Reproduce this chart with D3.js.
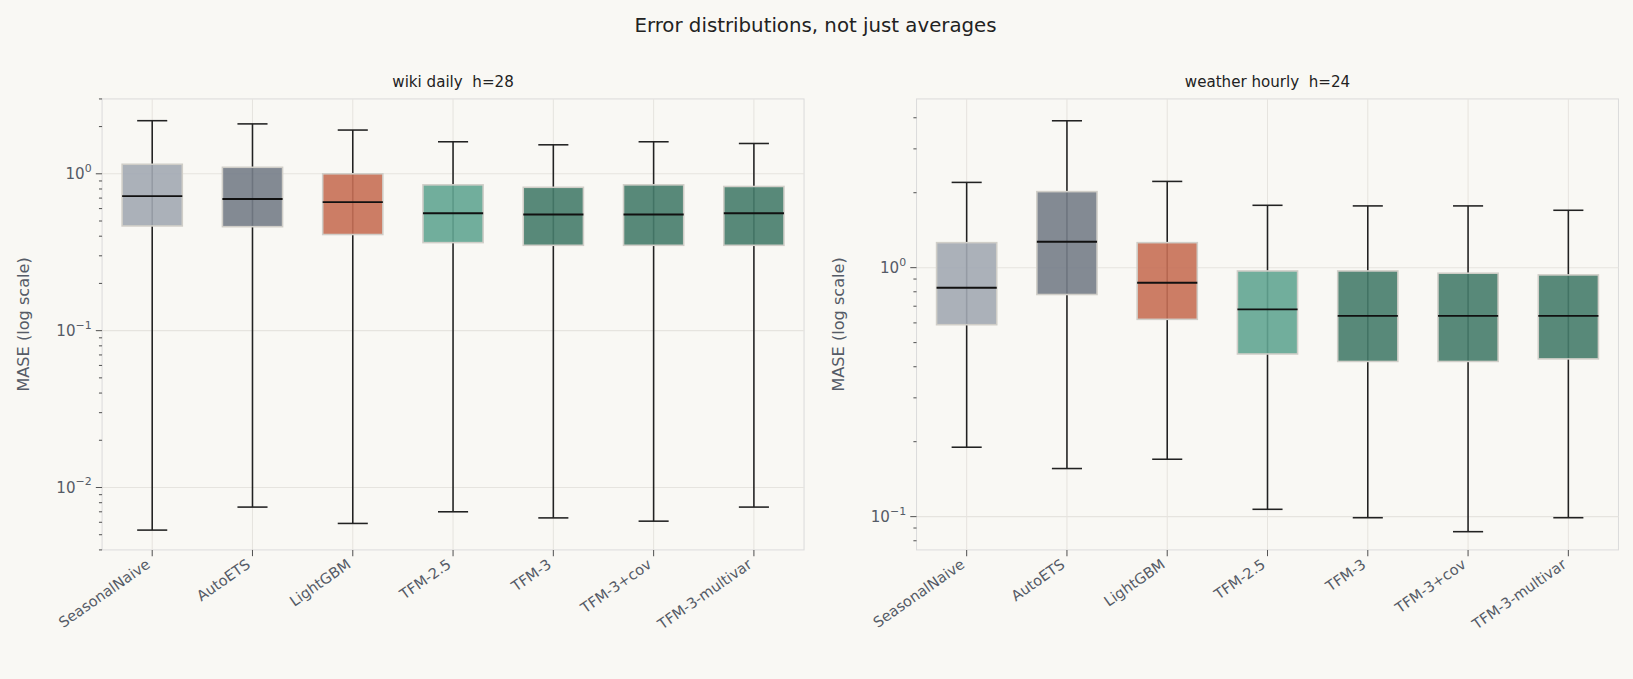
<!DOCTYPE html>
<html><head><meta charset="utf-8">
<script src="https://cdn.jsdelivr.net/npm/d3@7"></script>
<style>body{margin:0;background:#f9f8f4;font-family:"DejaVu Sans",sans-serif}text{white-space:pre}</style>
</head><body><svg id="c" width="1633" height="679"></svg>
<script>
const models=["SeasonalNaive","AutoETS","LightGBM","TFM-2.5","TFM-3","TFM-3+cov","TFM-3-multivar"];
const colors=["#a2a8b2","#767d88","#c66f55","#62a592","#467c6c","#467c6c","#467c6c"];
// [low, q1, median, q3, high]
const wikiStats=[[0.00535,0.465,0.72,1.15,2.18],[0.0075,0.46,0.69,1.1,2.08],[0.0059,0.41,0.66,1.0,1.9],[0.0070,0.364,0.56,0.85,1.6],[0.0064,0.35,0.55,0.82,1.53],[0.0061,0.35,0.55,0.85,1.6],[0.0075,0.35,0.56,0.83,1.56]];
const weatherStats=[[0.19,0.59,0.83,1.26,2.2],[0.156,0.78,1.27,2.02,3.89],[0.17,0.62,0.87,1.26,2.22],[0.107,0.45,0.68,0.97,1.78],[0.099,0.42,0.64,0.97,1.77],[0.087,0.42,0.64,0.95,1.77],[0.099,0.43,0.64,0.935,1.70]];
const panels=[{title:"wiki daily  h=28",stats:wikiStats,x0:98,x1:772,dom:[0.004,3.0],ticks:[-2,-1,0]},
{title:"weather hourly  h=24",stats:weatherStats,x0:880,x1:1554,dom:[0.0735,4.76],ticks:[-1,0]}];
const svg=d3.select("#c").append("g").attr("transform","scale(1.0415)");
svg.append("text").attr("x",783).attr("y",31).attr("text-anchor","middle").attr("font-size",19).attr("fill","#222").text("Error distributions, not just averages");
const y0=95,y1=528;
panels.forEach(p=>{
 const g=svg.append("g");
 const x=d3.scaleBand().domain(models).range([p.x0,p.x1]).paddingInner(0.4).paddingOuter(0.2);
 const y=d3.scaleLog().domain(p.dom).range([y1,y0]);
 g.append("rect").attr("x",p.x0).attr("y",y0).attr("width",p.x1-p.x0).attr("height",y1-y0).attr("fill","#f9f8f4").attr("stroke","#dcdcdc");
 models.forEach(m=>g.append("line").attr("x1",x(m)+x.bandwidth()/2).attr("x2",x(m)+x.bandwidth()/2).attr("y1",y0).attr("y2",y1).attr("stroke","#e6e4df"));
 p.ticks.forEach(t=>g.append("line").attr("x1",p.x0).attr("x2",p.x1).attr("y1",y(10**t)).attr("y2",y(10**t)).attr("stroke","#e6e4df"));
 for(let e=-3;e<=1;e++)for(let k=1;k<10;k++){const v=k*10**e;if(v<p.dom[0]||v>p.dom[1])continue;
  g.append("line").attr("x1",p.x0).attr("x2",p.x0-(k==1?6:3)).attr("y1",y(v)).attr("y2",y(v)).attr("stroke","#555");}
 p.ticks.forEach(t=>{const tx=g.append("text").attr("x",p.x0-10).attr("y",y(10**t)+5).attr("text-anchor","end").attr("font-size",14.5).attr("fill","#555b66");
  tx.append("tspan").text("10");tx.append("tspan").attr("dy",-7).attr("font-size",10.5).text(t==0?"0":"\u2212"+(-t));});
 g.append("text").attr("transform",`translate(${p.x0-70},${(y0+y1)/2}) rotate(-90)`).attr("text-anchor","middle").attr("font-size",15.5).attr("fill","#555b66").text("MASE (log scale)");
 g.append("text").attr("x",(p.x0+p.x1)/2).attr("y",84).attr("text-anchor","middle").attr("font-size",14.5).attr("fill","#222").text(p.title);
 models.forEach((m,i)=>{const s=p.stats[i],cx=x(m)+x.bandwidth()/2,w=x.bandwidth(),cw=w*0.5;
  g.append("line").attr("x1",cx).attr("x2",cx).attr("y1",y(s[0])).attr("y2",y(s[4])).attr("stroke","#222").attr("stroke-width",1.5);
  [s[0],s[4]].forEach(v=>g.append("line").attr("x1",cx-cw/2).attr("x2",cx+cw/2).attr("y1",y(v)).attr("y2",y(v)).attr("stroke","#222").attr("stroke-width",1.5));
  g.append("rect").attr("x",x(m)).attr("width",w).attr("y",y(s[3])).attr("height",y(s[1])-y(s[3])).attr("fill",colors[i]).attr("fill-opacity",0.9).attr("stroke","#d0cec8").attr("stroke-width",1.5);
  g.append("line").attr("x1",x(m)).attr("x2",x(m)+w).attr("y1",y(s[2])).attr("y2",y(s[2])).attr("stroke","#111").attr("stroke-width",1.8);
  g.append("line").attr("x1",cx).attr("x2",cx).attr("y1",y1).attr("y2",y1+6).attr("stroke","#555");
  g.append("text").attr("transform",`translate(${cx-1},${y1+16}) rotate(-35)`).attr("text-anchor","end").attr("font-size",14).attr("fill","#555b66").text(m);
 });
});
</script></body></html>
